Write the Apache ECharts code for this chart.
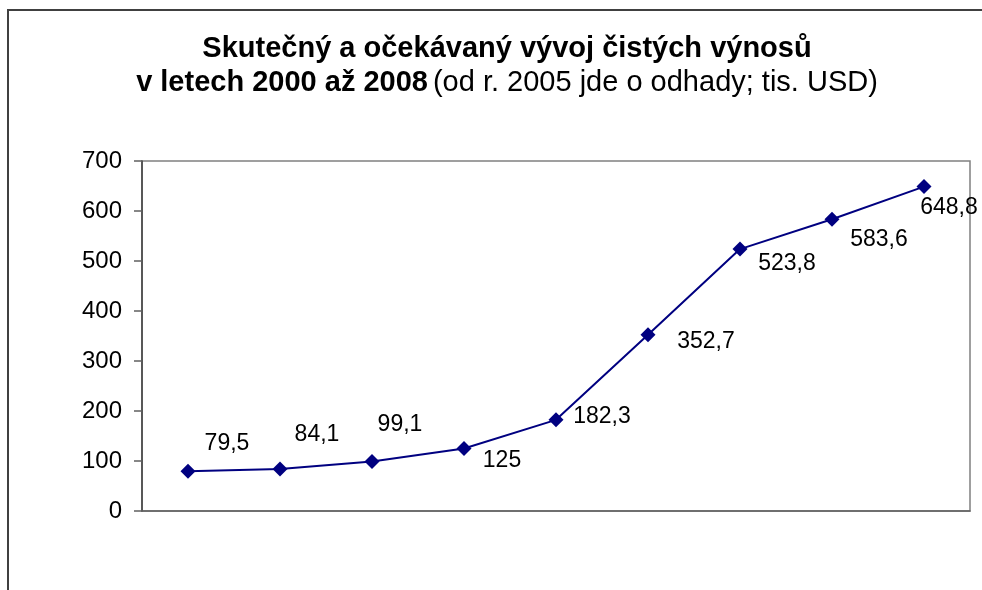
<!DOCTYPE html>
<html>
<head>
<meta charset="utf-8">
<script src="https://cdn.jsdelivr.net/npm/echarts@6/dist/echarts.min.js"></script>
<style>
html,body{margin:0;padding:0;background:#fff;}
#chart{width:982px;height:590px;}
</style>
</head>
<body>
<div id="chart"></div>
<script>
// Data
const categories = ['2000','2001','2002','2003','2004','2005','2006','2007','2008'];
const values = [79.5, 84.1, 99.1, 125, 182.3, 352.7, 523.8, 583.6, 648.8];
const yTicks = [0, 100, 200, 300, 400, 500, 600, 700];

// Layout: label offsets relative to each point (px)
const labelOffsets = [[39,-28],[37,-34],[28,-37],[38,12],[46,-3],[58,7],[47,15],[47,20],[25,21]];

const chart = echarts.init(document.getElementById('chart'));
const FONT = '"Liberation Sans", Arial, sans-serif';

const option = {
  animation: false,
  backgroundColor: '#fff',
  title: {
    left: 507,
    top: 32,
    padding: 0,
    textAlign: 'center',
    textVerticalAlign: 'top',
    text: '{b|Skutečný a očekávaný vývoj čistých výnosů}\n{b|v letech 2000 až 2008} {n|(od r. 2005 jde o odhady; tis. USD)}',
    textStyle: {
      fontFamily: FONT,
      rich: {
        b: {fontFamily: FONT, fontSize: 29, fontWeight: 'bold', color: '#000', lineHeight: 34},
        n: {fontFamily: FONT, fontSize: 29, fontWeight: 'normal', color: '#000', lineHeight: 34}
      }
    }
  },
  graphic: [{
    type: 'rect',
    shape: {x: 8, y: 10, width: 1000, height: 600},
    style: {fill: 'none', stroke: '#404040', lineWidth: 2},
    silent: true,
    z: -10
  }],
  grid: {
    left: 142, top: 161, right: 12, bottom: 79,
    show: true,
    borderColor: '#808080',
    borderWidth: 1.5,
    backgroundColor: 'transparent'
  },
  xAxis: {
    type: 'category',
    data: categories,
    boundaryGap: true,
    axisLine: {lineStyle: {color: '#606060', width: 1.5}},
    axisTick: {show: false},
    axisLabel: {show: false},
    splitLine: {show: false}
  },
  yAxis: {
    type: 'value',
    min: yTicks[0],
    max: yTicks[yTicks.length - 1],
    interval: yTicks[1] - yTicks[0],
    axisLine: {show: true, lineStyle: {color: '#404040', width: 1.5}},
    axisTick: {show: true, length: 8, lineStyle: {color: '#606060', width: 1.5}},
    axisLabel: {fontFamily: FONT, fontSize: 24, color: '#000', margin: 20},
    splitLine: {show: false}
  },
  series: [{
    type: 'line',
    data: values.map((v, i) => ({
      value: v,
      label: {offset: labelOffsets[i]}
    })),
    lineStyle: {color: '#000080', width: 2},
    itemStyle: {color: '#000080'},
    symbol: 'diamond',
    symbolSize: 15,
    label: {
      show: true,
      position: 'inside',
      fontFamily: FONT,
      fontSize: 23,
      color: '#000',
      formatter: p => String(p.value).replace('.', ',')
    }
  }]
};
chart.setOption(option);
</script>
</body>
</html>
